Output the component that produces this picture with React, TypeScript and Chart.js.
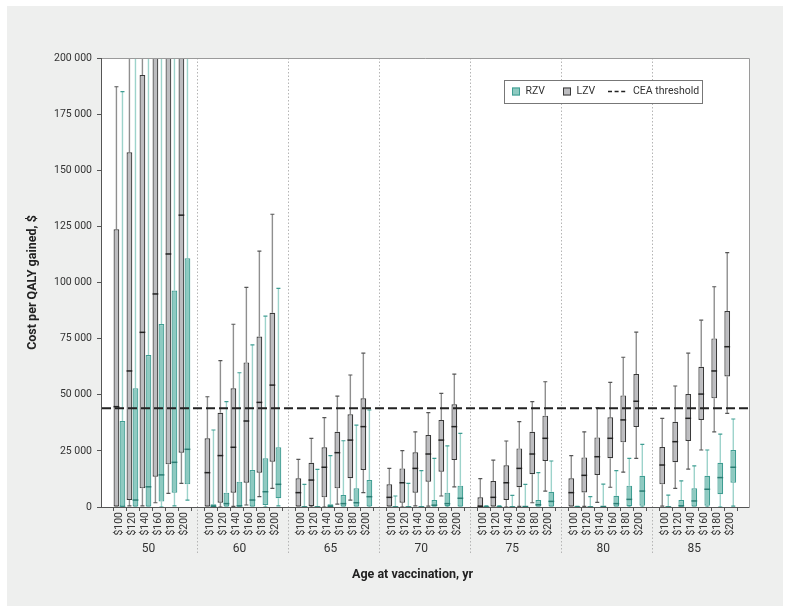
import React, { useEffect, useRef } from 'react';
import { Chart, registerables } from 'chart.js';

Chart.register(...registerables);

// ---------- DATA (values in $ thousands) ----------
const ages = ['50', '60', '65', '70', '75', '80', '85'];
const prices = ['$100', '$120', '$140', '$160', '$180', '$200'];
const ceaThreshold = 44000;

// order: age-major, then price ($100 .. $200)
const lzvMin = [
  0, 0.5, 0.5, 1.9, 6.1, 10.5,
  0, 0, 0.3, 0.9, 4.6, 8.3,
  0, 0, 0, 1.3, 3.1, 6.4,
  0, 0, 0.5, 0.4, 4.9, 9.0,
  0, 0, 0, 0.3, 1.9, 7.1,
  0, 0.3, 2.1, 8.8, 15.5, 21.7,
  0.4, 8.3, 16.9, 25.4, 33.5, 41.7,
];
const lzvQ1 = [
  0, 3.1, 8.3, 13.5, 19, 24.2,
  0, 1.9, 6.4, 10.8, 15.3, 20.2,
  0, 0.5, 4.3, 8.3, 12.8, 16.5,
  0, 1.9, 6.4, 11.3, 15.7, 20.9,
  0, 0, 3.1, 8.8, 14.6, 20.5,
  0, 6.5, 14.3, 21.7, 28.8, 35.6,
  10.1, 19.9, 29.4, 38.8, 48.4, 58.1,
];
const lzvMedian = [
  44.7, 60.6, 77.8, 94.9, 112.7, 130,
  15.3, 22.9, 26.6, 38.3, 46.6, 54.3,
  6.4, 12, 17.7, 24.2, 29.8, 35.8,
  4.3, 10.8, 17.2, 23.6, 29.8, 35.8,
  0.3, 4.3, 10.8, 17.2, 23.6, 30.6,
  6.4, 14.1, 22.4, 30.6, 38.8, 47.1,
  18.7, 29.1, 39.5, 50.3, 60.6, 71.4,
];
const lzvQ3 = [
  123.7, 158, 192.4, 230, 260, 290,
  30.6, 42, 52.9, 64.4, 75.9, 86.5,
  12.8, 19.7, 26.6, 33.5, 41.3, 48.4,
  10.1, 17.2, 24.4, 32.1, 38.8, 45.8,
  4.3, 11.6, 18.6, 26.1, 33.5, 40.7,
  12.8, 22.1, 31, 40, 49.7, 59.2,
  26.7, 38, 50.3, 62.5, 75.1, 87.3,
];
const lzvMax = [
  187.2, 260, 300, 330, 370, 400,
  49.1, 65.2, 81.4, 97.8, 114, 130.4,
  21.2, 30.6, 39.8, 49.4, 58.8, 68.5,
  17.2, 25.1, 33.5, 42, 50.6, 59.2,
  12.6, 20.9, 29.4, 38, 46.9, 55.8,
  22.9, 33.5, 44.2, 55.5, 66.7, 77.9,
  39.5, 53.9, 68.5, 83.2, 98.1, 113.3,
];

const rzvMin = [
  0, 0, 0, 0, 0.5, 3.1,
  0, 0, 0, 0, 0, 0.5,
  0, 0, 0, 0, 0, 0,
  0, 0, 0, 0, 0, 0,
  0, 0, 0, 0, 0, 0,
  0, 0, 0, 0, 0, 0,
  0, 0, 0, 0, 0, 0.4,
];
const rzvQ1 = [
  0, 0, 0, 2.4, 6.4, 10.1,
  0, 0, 0, 0, 0.9, 3.9,
  0, 0, 0, 0, 0, 0.3,
  0, 0, 0, 0, 0.5, 0,
  0, 0, 0, 0, 0, 0,
  0, 0, 0, 0, 0.5, 0.6,
  0, 0, 0, 0.6, 5.7, 10.8,
];
const rzvMedian = [
  0, 3.1, 9.0, 14.3, 19.9, 25.7,
  0.3, 1.5, 0.5, 3.1, 6.8, 10.1,
  0, 0, 0.3, 1.5, 1.9, 4.6,
  0, 0, 0, 0.8, 1.5, 3.9,
  0, 0, 0, 0.2, 1.0, 2.5,
  0, 0, 0.2, 1.5, 3.4, 7.1,
  0, 0.5, 2.7, 7.9, 13.1, 17.7,
];
const rzvQ3 = [
  38.3, 52.9, 67.7, 81.5, 96.4, 110.8,
  1.2, 6.4, 11.3, 16.5, 21.7, 26.6,
  0.2, 0.3, 1.2, 5.3, 8.3, 12,
  0.2, 0.2, 0.3, 3.1, 6.4, 9.5,
  0.1, 0.1, 0.2, 0.5, 3.1, 6.8,
  0.1, 0.2, 0.6, 5.0, 9.5, 13.9,
  0.2, 3.1, 8.3, 13.9, 19.7, 25.4,
];
const rzvMax = [
  185, 260, 280, 300, 330, 360,
  34.3, 46.9, 59.8, 72.2, 85, 97.4,
  10.1, 16.8, 22.9, 29.5, 36.5, 43.2,
  4.9, 10.5, 16.2, 21.7, 27.2, 32.8,
  0.5, 0.5, 5.2, 10.1, 15.3, 20.5,
  0.3, 4.6, 10.2, 16.2, 21.7, 27.9,
  5.3, 11.6, 18.3, 25.4, 32.5, 39.2,
];

// ---------- STYLE ----------
const FONT = 'Roboto';
const TEXT = '#333333';
const LZV_FILL = '#bdbdc0';
const LZV_LINE = '#3a3a3a';
const LZV_WHISKER = '#8f8f8f';
const RZV_FILL = '#8ecac1';
const RZV_LINE = '#3f9d92';
const RZV_WHISKER = '#9dd3cb';

const K = 1000;
const slotOf = (i: number) => Math.floor(i / prices.length) * (prices.length + 1) + (i % prices.length) + 0.5;
const slotCenters = lzvQ1.map((_, i) => slotOf(i));
const fmt = (v: number) => String(Math.round(v)).replace(/\B(?=(\d{3})+(?!\d))/g, ' ');

const series = [
  { min: lzvMin, q1: lzvQ1, med: lzvMedian, q3: lzvQ3, max: lzvMax, whisker: LZV_WHISKER, cap: '#555555', median: '#222222' },
  { min: rzvMin, q1: rzvQ1, med: rzvMedian, q3: rzvQ3, max: rzvMax, whisker: RZV_WHISKER, cap: RZV_LINE, median: '#2a7d73' },
];

const extras = {
  id: 'boxExtras',
  beforeDraw(chart: any) {
    const { ctx, chartArea: ca } = chart;
    ctx.save();
    ctx.fillStyle = '#ffffff';
    ctx.fillRect(ca.left, ca.top, ca.right - ca.left, ca.bottom - ca.top);
    ctx.restore();
  },
  beforeDatasetsDraw(chart: any) {
    const { ctx, chartArea: ca, scales } = chart;
    const x = scales.x, y = scales.y;
    // group separators
    ctx.save();
    ctx.strokeStyle = '#b5b5b5';
    ctx.lineWidth = 1;
    ctx.setLineDash([1.5, 2]);
    for (let g = 1; g < ages.length; g++) {
      const px = Math.round(x.getPixelForValue(g * (prices.length + 1) - 0.5)) + 0.5;
      ctx.beginPath();
      ctx.moveTo(px, ca.top);
      ctx.lineTo(px, ca.bottom + 48);
      ctx.stroke();
    }
    ctx.restore();
    // whiskers
    ctx.save();
    ctx.beginPath();
    ctx.rect(ca.left, ca.top, ca.right - ca.left, ca.bottom - ca.top);
    ctx.clip();
    series.forEach((s, d) => {
      const meta = chart.getDatasetMeta(d);
      meta.data.forEach((el: any, i: number) => {
        const cx = el.x;
        const pMax = y.getPixelForValue(s.max[i] * K);
        const pQ3 = y.getPixelForValue(s.q3[i] * K);
        const pQ1 = y.getPixelForValue(s.q1[i] * K);
        const pMin = y.getPixelForValue(s.min[i] * K);
        ctx.strokeStyle = s.whisker;
        ctx.lineWidth = 1.4;
        ctx.beginPath();
        ctx.moveTo(cx, pQ3);
        ctx.lineTo(cx, pMax);
        ctx.moveTo(cx, pQ1);
        ctx.lineTo(cx, pMin);
        ctx.stroke();
        ctx.strokeStyle = s.cap;
        ctx.lineWidth = 1.2;
        ctx.beginPath();
        ctx.moveTo(cx - 2, pMax);
        ctx.lineTo(cx + 2, pMax);
        ctx.moveTo(cx - 2, pMin);
        ctx.lineTo(cx + 2, pMin);
        ctx.stroke();
      });
    });
    ctx.restore();
  },
  afterDatasetsDraw(chart: any) {
    const { ctx, chartArea: ca, scales } = chart;
    const y = scales.y;
    ctx.save();
    ctx.beginPath();
    ctx.rect(ca.left, ca.top, ca.right - ca.left, ca.bottom - ca.top);
    ctx.clip();
    // medians
    series.forEach((s, d) => {
      const meta = chart.getDatasetMeta(d);
      meta.data.forEach((el: any, i: number) => {
        const py = y.getPixelForValue(s.med[i] * K);
        ctx.strokeStyle = s.median;
        ctx.lineWidth = 1.5;
        ctx.beginPath();
        ctx.moveTo(el.x - el.width / 2, py);
        ctx.lineTo(el.x + el.width / 2, py);
        ctx.stroke();
      });
    });
    // CEA threshold
    const ty = y.getPixelForValue(ceaThreshold);
    ctx.strokeStyle = '#222222';
    ctx.lineWidth = 2;
    ctx.setLineDash([9, 4]);
    ctx.beginPath();
    ctx.moveTo(ca.left, ty);
    ctx.lineTo(ca.right, ty);
    ctx.stroke();
    ctx.restore();

    // frame
    ctx.save();
    ctx.lineWidth = 1;
    ctx.strokeStyle = '#9a9a9a';
    ctx.beginPath();
    ctx.moveTo(ca.left, ca.top + 0.5);
    ctx.lineTo(ca.right + 0.5, ca.top + 0.5);
    ctx.lineTo(ca.right + 0.5, ca.bottom);
    ctx.stroke();
    ctx.strokeStyle = '#555555';
    ctx.beginPath();
    ctx.moveTo(ca.left - 0.5, ca.top);
    ctx.lineTo(ca.left - 0.5, ca.bottom + 0.5);
    ctx.lineTo(ca.right + 0.5, ca.bottom + 0.5);
    ctx.stroke();
    ctx.restore();

    // legend
    ctx.save();
    const right = ca.right - 47;
    const w = 198, h = 23;
    const left = right - w;
    const top = ca.top + 22;
    const cy = top + h / 2;
    ctx.fillStyle = '#ffffff';
    ctx.fillRect(left, top, w, h);
    ctx.strokeStyle = '#777777';
    ctx.lineWidth = 1;
    ctx.strokeRect(Math.round(left) + 0.5, Math.round(top) + 0.5, w, h);
    const sq = (sx: number, fill: string, line: string) => {
      ctx.fillStyle = fill;
      ctx.fillRect(sx, cy - 4, 8, 8);
      ctx.strokeStyle = line;
      ctx.strokeRect(sx + 0.5, cy - 3.5, 7, 7);
    };
    ctx.font = `10.5px ${FONT}`;
    ctx.textBaseline = 'middle';
    ctx.textAlign = 'left';
    sq(left + 8, RZV_FILL, RZV_LINE);
    ctx.fillStyle = TEXT;
    ctx.fillText('RZV', left + 21.5, cy);
    sq(left + 59, LZV_FILL, LZV_LINE);
    ctx.fillStyle = TEXT;
    ctx.fillText('LZV', left + 72.5, cy);
    ctx.strokeStyle = '#222222';
    ctx.lineWidth = 1.6;
    ctx.setLineDash([4, 2.6]);
    ctx.beginPath();
    ctx.moveTo(left + 104, cy);
    ctx.lineTo(left + 123, cy);
    ctx.stroke();
    ctx.setLineDash([]);
    ctx.fillStyle = TEXT;
    ctx.fillText('CEA threshold', left + 129, cy);
    ctx.restore();
  },
  afterDraw(chart: any) {
    const { ctx, chartArea: ca, scales } = chart;
    const x = scales.x;
    ctx.save();
    // x tick marks at slot edges
    ctx.strokeStyle = '#555555';
    ctx.lineWidth = 1;
    ctx.beginPath();
    for (let g = 0; g < ages.length; g++) {
      for (let p = 0; p <= prices.length; p++) {
        const px = Math.round(x.getPixelForValue(g * (prices.length + 1) + p)) + 0.5;
        ctx.moveTo(px, ca.bottom);
        ctx.lineTo(px, ca.bottom + 4);
      }
    }
    ctx.stroke();
    // age labels
    ctx.fillStyle = TEXT;
    ctx.font = `12px ${FONT}`;
    ctx.textAlign = 'center';
    ctx.textBaseline = 'middle';
    ages.forEach((a, g) => {
      const px = x.getPixelForValue(g * (prices.length + 1) + prices.length / 2) - 3.5;
      ctx.fillText(a, px, ca.bottom + 42);
    });
    // axis titles
    ctx.font = `bold 12.5px ${FONT}`;
    ctx.fillStyle = '#222222';
    ctx.fillText('Age at vaccination, yr', (ca.left + ca.right) / 2 - 13, ca.bottom + 68);
    ctx.translate(26, (ca.top + ca.bottom) / 2);
    ctx.rotate(-Math.PI / 2);
    ctx.fillText('Cost per QALY gained, $', 0, 0);
    ctx.restore();
  },
};

export default function App() {
  const ref = useRef<HTMLCanvasElement | null>(null);
  useEffect(() => {
    if (!ref.current) return;
    const chart = new Chart(ref.current, {
      type: 'bar',
      data: {
        datasets: [
          {
            label: 'LZV',
            data: lzvQ1.map((q1, i) => ({ x: slotCenters[i], y: [q1 * K, lzvQ3[i] * K] })) as any,
            backgroundColor: LZV_FILL,
            borderColor: LZV_LINE,
            borderWidth: 1.2,
            borderSkipped: false,
            categoryPercentage: 0.93,
            barPercentage: 0.95,
          },
          {
            label: 'RZV',
            data: rzvQ1.map((q1, i) => ({ x: slotCenters[i], y: [q1 * K, rzvQ3[i] * K] })) as any,
            backgroundColor: RZV_FILL,
            borderColor: RZV_LINE,
            borderWidth: 1.2,
            borderSkipped: false,
            categoryPercentage: 0.93,
            barPercentage: 0.95,
          },
        ],
      },
      options: {
        responsive: false,
        animation: false,
        devicePixelRatio: 1,
        layout: { padding: { top: 52, right: 34, left: 0, bottom: 0 } },
        plugins: { legend: { display: false }, tooltip: { enabled: false } },
        scales: {
          x: {
            type: 'linear',
            min: -0.25,
            max: 48.35,
            afterBuildTicks: (scale: any) => {
              scale.ticks = slotCenters.map((v) => ({ value: v }));
            },
            afterFit: (scale: any) => {
              scale.height = 99;
            },
            grid: { display: false, drawTicks: true, tickLength: 4 },
            border: { display: false },
            ticks: {
              autoSkip: false,
              minRotation: 90,
              maxRotation: 90,
              padding: 1,
              color: TEXT,
              font: { family: FONT, size: 10.5 },
              callback: (v: any) => prices[Math.round(Number(v) - 0.5) % (prices.length + 1)] ?? '',
            },
          },
          y: {
            min: 0,
            max: 200000,
            afterFit: (scale: any) => {
              scale.width = 95;
            },
            grid: { display: true, drawOnChartArea: false, drawTicks: true, tickLength: 5, color: '#555555' },
            border: { display: false },
            ticks: {
              stepSize: 25000,
              padding: 5,
              color: TEXT,
              font: { family: FONT, size: 10.5 },
              callback: (v: any) => fmt(Number(v)),
            },
          },
        },
      },
      plugins: [extras],
    });
    return () => chart.destroy();
  }, []);

  return (
    <div
      style={{
        position: 'absolute',
        left: 7,
        top: 6,
        width: 776,
        height: 600,
        background: '#eeefee',
      }}
    >
      <canvas ref={ref} width={776} height={600} style={{ display: 'block' }} />
    </div>
  );
}
